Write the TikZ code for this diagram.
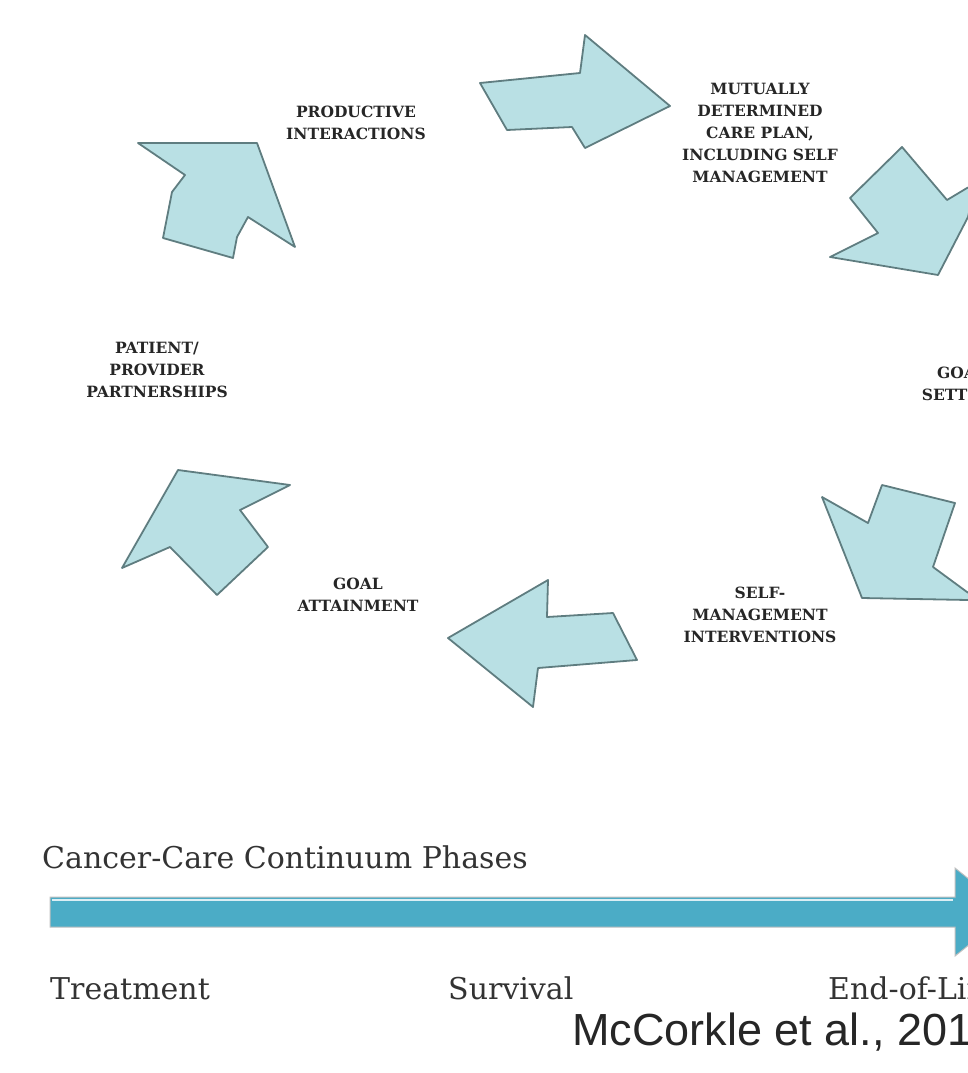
\documentclass[tikz,border=0pt]{standalone}
\usepackage{fontspec}
\setmainfont{DejaVu Serif}
\newfontfamily\citefont{Liberation Sans}
\definecolor{arrowfill}{RGB}{185,224,228}
\definecolor{arrowline}{RGB}{95,125,128}
\definecolor{phasebar}{RGB}{75,172,198}

\begin{document}
\begin{tikzpicture}[x=1pt,y=-1pt,
    cyclearrow/.style={fill=arrowfill,draw=arrowline,line width=1.8pt,line join=round},
    steplabel/.style={align=center,font=\fontsize{15.5}{22}\selectfont\bfseries,text=black!85,inner sep=0pt},
    phaselabel/.style={anchor=base west,font=\fontsize{30}{36}\selectfont,text=black!80,inner sep=0pt}]
\useasboundingbox (0,0) rectangle (968,1073);
\clip (0,0) rectangle (968,1073);
% arrows of the cycle
\draw[cyclearrow] (138,143)--(257,143)--(295,247)--(248,217)--(237,237)--(233,258)--(163,238)--(172,192)--(185,175)--cycle;
\draw[cyclearrow] (480,83)--(580,73)--(585,35)--(670,106)--(585,148)--(572,127)--(507,130)--cycle;
\draw[cyclearrow] (902,147)--(947,200)--(967,188)--(975,185)--(968,217)--(938,275)--(830,257)--(878,233)--(850,198)--cycle;
\draw[cyclearrow] (822,497)--(868,523)--(882,485)--(955,503)--(933,567)--(967,592)--(975,596)--(968,600)--(862,598)--cycle;
\draw[cyclearrow] (178,470)--(290,485)--(240,510)--(268,547)--(217,595)--(170,547)--(122,568)--cycle;
\draw[cyclearrow] (548,580)--(547,617)--(613,613)--(637,660)--(538,668)--(533,707)--(448,638)--cycle;
% labels of the cycle
\node[steplabel] (interact) at (356,123) {PRODUCTIVE\\INTERACTIONS};
\node[steplabel] (careplan) at (760,133) {MUTUALLY\\DETERMINED\\CARE PLAN,\\INCLUDING SELF\\MANAGEMENT};
\node[steplabel] (goalset) at (962,384) {GOAL\\SETTING};
\node[steplabel] (selfmgmt) at (760,615) {SELF-\\MANAGEMENT\\INTERVENTIONS};
\node[steplabel] (attain) at (358,595) {GOAL\\ATTAINMENT};
\node[steplabel] (partner) at (157,370) {PATIENT/\\PROVIDER\\PARTNERSHIPS};
% continuum
\node[phaselabel] (phases) at (42,868) {Cancer-Care Continuum Phases};
\draw[fill=phasebar,draw=black!25,line width=1pt] (50,897)--(955,897)--(955,868)--(1010,912)--(955,956)--(955,927)--(50,927)--cycle;
\draw[white!80!phasebar,line width=1.5pt] (52,900)--(953,900);
\node[phaselabel] (treat) at (50,999) {Treatment};
\node[phaselabel] (surv) at (448,999) {Survival};
\node[phaselabel] (eol) at (828,999) {End-of-Life};
\node[anchor=base west,inner sep=0pt,font=\citefont\fontsize{45}{50}\selectfont,text=black!85] (cite) at (572,1045) {McCorkle et al., 2011};
\end{tikzpicture}
\end{document}
